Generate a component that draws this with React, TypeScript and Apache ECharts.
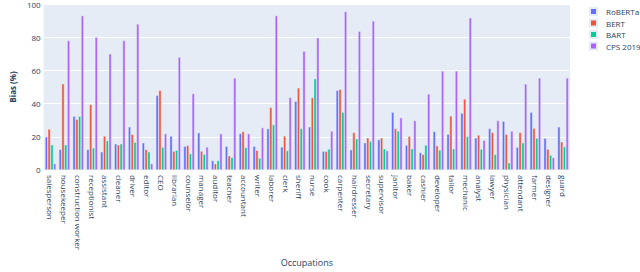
import React, { useEffect, useRef } from "react";
import * as echarts from "echarts";

const occupations = [
  "salesperson", "housekeeper", "construction worker", "receptionist", "assistant",
  "cleaner", "driver", "editor", "CEO", "librarian", "counselor", "manager",
  "auditor", "teacher", "accountant", "writer", "laborer", "clerk", "sheriff",
  "nurse", "cook", "carpenter", "hairdresser", "secretary", "supervisor",
  "janitor", "baker", "cashier", "developer", "tailor", "mechanic", "analyst",
  "lawyer", "physician", "attendant", "farmer", "designer", "guard",
];

const roberta = [
  20, 12.4, 32.4, 12.4, 11, 15.8, 26, 16.4, 45, 20.5, 14.3, 22.5, 5.7, 14.3,
  22, 14.3, 24.9, 13.9, 41.4, 26, 11.3, 48, 12.2, 16.4, 18.3, 34.8, 15, 10.5,
  23.2, 21.6, 34.3, 19.4, 25, 29.4, 13.7, 34.8, 19.2, 26,
];
const bert = [
  24.7, 52, 30.5, 39.5, 20.5, 15.2, 21.5, 12.4, 48, 11.4, 14.8, 11.4, 3.8, 8.6,
  23.2, 11.9, 37.7, 20.5, 49.5, 43.7, 11.3, 48.6, 22.6, 19.4, 19.4, 25, 20.3, 9.4,
  14.7, 32.6, 42.8, 21.1, 22.6, 21.6, 22.6, 25.2, 12.6, 17,
];
const bart = [
  15.2, 15.2, 32.4, 13.3, 17.7, 15.8, 16.7, 11, 13.7, 11.9, 9.8, 9.5, 5.7, 7.6,
  13.6, 7.2, 27.3, 11.7, 25, 55, 12.6, 34.8, 18.8, 17.3, 12.8, 23.5, 12.8, 15,
  12, 12.8, 20.2, 12.6, 9.4, 4.3, 16.4, 19.2, 8.9, 14,
];
const cps2019 = [
  3.8, 78, 93, 80, 70, 78, 88, 3.8, 21.9, 68, 46, 13.9, 21.9, 55.5,
  21.9, 25.5, 93, 43.7, 71.6, 79.7, 23.5, 95.5, 83.6, 89.8, 11.7, 31.5, 29.8, 45.8,
  59.7, 59.7, 91.7, 17.9, 29.8, 23.5, 51.8, 55.5, 7.5, 55.5,
];

const seriesNames = ["RoBERTa", "BERT", "BART", "CPS 2019"];
const seriesColors = ["#636efa", "#EF553B", "#00cc96", "#ab63fa"];
const seriesData = [roberta, bert, bart, cps2019];

export default function App() {
  const ref = useRef<HTMLDivElement>(null);
  useEffect(() => {
    if (!ref.current) return;
    const chart = echarts.init(ref.current, undefined, { renderer: "svg" });
    const font = "'Open Sans', 'Noto Sans', sans-serif";
    chart.setOption({
      animation: false,
      textStyle: { fontFamily: font },
      grid: { left: 36, right: 70, top: 3, bottom: 92, backgroundColor: "#E5ECF6", show: true, borderWidth: 0 },
      legend: {
        orient: "vertical",
        left: 589,
        top: 7,
        padding: 0,
        itemWidth: 7,
        itemHeight: 7,
        itemGap: 2.5,
        icon: "rect",
        data: seriesNames,
        textStyle: { fontSize: 8, color: "#2a3f5f", fontFamily: font, padding: [0, 0, 0, 4], lineHeight: 9 },
      },
      xAxis: {
        type: "category",
        data: occupations,
        name: "Occupations",
        nameLocation: "middle",
        nameGap: 83,
        nameTextStyle: { fontSize: 9, color: "#2a3f5f", fontFamily: font },
        axisLine: { show: false },
        axisTick: { show: false },
        axisLabel: {
          rotate: -90,
          interval: 0,
          fontSize: 8,
          color: "#2a3f5f",
          margin: 5,
          fontFamily: font,
        },
      },
      yAxis: {
        type: "value",
        min: 0,
        max: 100,
        interval: 20,
        name: "Bias (%)",
        nameLocation: "middle",
        nameGap: 27,
        nameTextStyle: { fontSize: 8, color: "#2a3f5f", fontWeight: "bold", fontFamily: font },
        axisLine: { show: false },
        axisTick: { show: false },
        axisLabel: { fontSize: 8, color: "#2a3f5f", margin: 3, fontFamily: font },
        splitLine: { lineStyle: { color: "#ffffff", width: 1 } },
      },
      series: seriesNames.map((name, i) => ({
        name,
        type: "bar",
        data: seriesData[i],
        barGap: "0%",
        barCategoryGap: "20%",
        itemStyle: { color: seriesColors[i], borderColor: "#E5ECF6", borderWidth: 0.5 },
      })),
    });
    return () => chart.dispose();
  }, []);
  return <div ref={ref} style={{ width: 640, height: 272, position: "absolute", left: 0, top: 0 }} />;
}
